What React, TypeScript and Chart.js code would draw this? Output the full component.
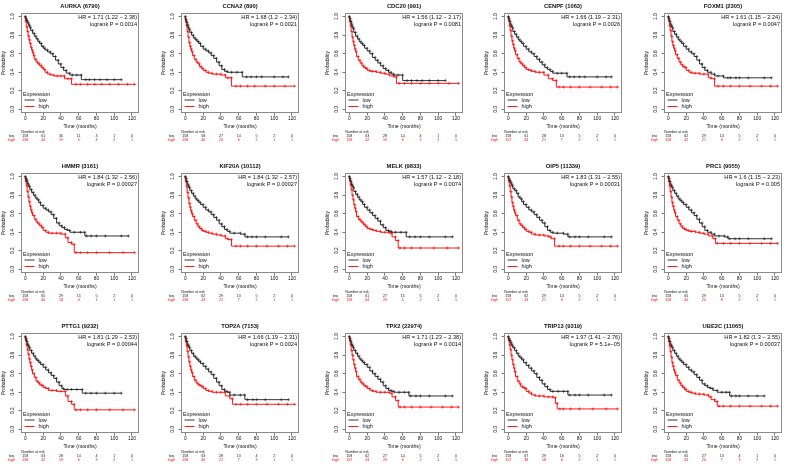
import React, { useEffect, useRef } from "react";
import { Chart, registerables } from "chart.js";

Chart.register(...registerables);

const TIME_TICKS = [0, 20, 40, 60, 80, 100, 120];
const PROB_TICKS = [0, 0.2, 0.4, 0.6, 0.8, 1];

const TITLES = [
  "AURKA (6790)", "CCNA2 (890)", "CDC20 (991)", "CENPF (1063)", "FOXM1 (2305)",
  "HMMR (3161)", "KIF20A (10112)", "MELK (9833)", "OIP5 (11339)", "PRC1 (9055)",
  "PTTG1 (9232)", "TOP2A (7153)", "TPX2 (22974)", "TRIP13 (9319)", "UBE2C (11065)",
];
const HR_TEXT = [
  "HR = 1.71 (1.22 − 2.38)", "HR = 1.68 (1.2 − 2.34)", "HR = 1.56 (1.12 − 2.17)", "HR = 1.66 (1.19 − 2.31)", "HR = 1.61 (1.15 − 2.24)",
  "HR = 1.84 (1.32 − 2.56)", "HR = 1.84 (1.32 − 2.57)", "HR = 1.57 (1.12 − 2.18)", "HR = 1.83 (1.31 − 2.55)", "HR = 1.6 (1.15 − 2.23)",
  "HR = 1.81 (1.29 − 2.53)", "HR = 1.66 (1.19 − 2.31)", "HR = 1.71 (1.23 − 2.38)", "HR = 1.97 (1.41 − 2.76)", "HR = 1.82 (1.3 − 2.55)",
];
const P_TEXT = [
  "logrank P = 0.0014", "logrank P = 0.0021", "logrank P = 0.0081", "logrank P = 0.0026", "logrank P = 0.0047",
  "logrank P = 0.00027", "logrank P = 0.00027", "logrank P = 0.0074", "logrank P = 0.00031", "logrank P = 0.005",
  "logrank P = 0.00044", "logrank P = 0.0024", "logrank P = 0.0014", "logrank P = 5.1e−05", "logrank P = 0.00037",
];
const RISK_LOW = [
  [158, 61, 30, 11, 3, 1, 0], [158, 58, 27, 14, 5, 2, 0], [158, 63, 28, 14, 4, 1, 0], [158, 61, 28, 13, 5, 2, 0], [158, 62, 29, 14, 5, 2, 0],
  [158, 65, 29, 15, 5, 2, 0], [158, 62, 29, 13, 5, 2, 0], [158, 61, 27, 15, 5, 2, 0], [158, 62, 29, 14, 5, 2, 0], [158, 65, 29, 13, 5, 2, 0],
  [158, 63, 28, 14, 4, 1, 0], [158, 63, 28, 13, 4, 2, 0], [158, 62, 27, 14, 5, 2, 0], [158, 67, 29, 16, 5, 2, 0], [158, 65, 27, 13, 4, 1, 0],
];
const RISK_HIGH = [
  [158, 44, 19, 5, 4, 2, 1], [158, 46, 20, 6, 2, 1, 1], [158, 42, 19, 6, 3, 2, 1], [157, 44, 21, 7, 2, 1, 1], [158, 42, 21, 6, 2, 1, 1],
  [158, 40, 18, 4, 1, 1, 1], [158, 43, 21, 7, 2, 1, 1], [158, 44, 20, 5, 2, 1, 1], [157, 43, 21, 6, 2, 1, 1], [158, 40, 20, 8, 2, 1, 1],
  [158, 42, 19, 6, 3, 2, 1], [158, 46, 21, 7, 3, 1, 1], [157, 43, 20, 6, 2, 1, 1], [157, 38, 18, 6, 2, 1, 1], [158, 44, 20, 7, 3, 2, 1],
];

// Kaplan-Meier curves: [time (months), survival probability]
const AURKA_LOW = [[0,1],[1,0.98],[2,0.96],[3,0.94],[4,0.92],[5,0.9],[6,0.88],[8,0.85],[10,0.82],[12,0.79],[14,0.76],[16,0.73],[18,0.71],[20,0.68],[22,0.66],[25,0.64],[28,0.62],[31,0.6],[34,0.57],[37,0.53],[40,0.49],[43,0.45],[46,0.42],[50,0.39],[53,0.37],[58,0.37],[63,0.37],[68,0.32],[72,0.32],[78,0.32],[84,0.32],[92,0.32],[100,0.32],[108,0.32]];
const AURKA_HIGH = [[0,1],[1,0.95],[2,0.89],[3,0.84],[4,0.79],[5,0.75],[6,0.71],[7,0.67],[8,0.64],[9,0.61],[10,0.58],[12,0.54],[14,0.51],[16,0.49],[18,0.47],[20,0.45],[22,0.43],[25,0.4],[28,0.38],[32,0.37],[36,0.36],[40,0.36],[44,0.36],[48,0.33],[52,0.33],[57,0.27],[62,0.27],[70,0.27],[78,0.27],[86,0.27],[95,0.27],[105,0.27],[115,0.27],[123,0.27]];
const CCNA2_LOW = [[0,1],[1,0.97],[2,0.94],[3,0.91],[4,0.88],[5,0.86],[7,0.83],[9,0.8],[11,0.77],[13,0.75],[15,0.73],[17,0.71],[20,0.68],[23,0.65],[26,0.63],[29,0.61],[32,0.58],[35,0.55],[38,0.51],[41,0.47],[44,0.43],[47,0.41],[52,0.4],[58,0.4],[64,0.4],[69,0.35],[74,0.35],[80,0.35],[86,0.35],[100,0.35],[110,0.35],[116,0.35]];
const CCNA2_HIGH = [[0,1],[1,0.95],[2,0.9],[3,0.84],[4,0.78],[5,0.72],[6,0.68],[7,0.65],[8,0.62],[10,0.58],[12,0.54],[14,0.51],[16,0.49],[18,0.46],[20,0.44],[23,0.42],[26,0.4],[30,0.39],[35,0.38],[40,0.38],[45,0.37],[48,0.34],[52,0.34],[57,0.25],[62,0.25],[70,0.25],[78,0.25],[90,0.25],[100,0.25],[112,0.25],[123,0.25]];
const CDC20_LOW = [[0,1],[1,0.98],[2,0.95],[3,0.92],[4,0.89],[5,0.87],[7,0.83],[9,0.79],[11,0.76],[13,0.73],[15,0.71],[17,0.69],[20,0.66],[23,0.63],[26,0.6],[29,0.56],[32,0.53],[35,0.5],[38,0.47],[41,0.44],[44,0.42],[47,0.4],[50,0.38],[55,0.37],[60,0.37],[65,0.31],[70,0.31],[76,0.31],[82,0.31],[90,0.31],[100,0.31],[108,0.31]];
const CDC20_HIGH = [[0,1],[1,0.95],[2,0.9],[3,0.84],[4,0.78],[5,0.73],[6,0.69],[7,0.65],[8,0.62],[10,0.57],[12,0.53],[14,0.5],[16,0.47],[18,0.45],[20,0.44],[23,0.42],[26,0.41],[30,0.41],[35,0.4],[40,0.39],[45,0.38],[50,0.36],[53,0.35],[56,0.28],[62,0.28],[70,0.28],[80,0.28],[90,0.28],[100,0.28],[112,0.28],[123,0.28]];
const CENPF_LOW = [[0,1],[1,0.98],[2,0.95],[3,0.92],[4,0.9],[5,0.88],[7,0.84],[9,0.81],[11,0.78],[13,0.75],[15,0.73],[17,0.71],[20,0.68],[23,0.65],[26,0.62],[29,0.6],[32,0.57],[35,0.54],[38,0.51],[41,0.48],[44,0.45],[47,0.43],[50,0.41],[55,0.39],[60,0.39],[66,0.39],[69,0.35],[74,0.35],[80,0.35],[86,0.35],[100,0.35],[110,0.35],[116,0.35]];
const CENPF_HIGH = [[0,1],[1,0.96],[2,0.9],[3,0.85],[4,0.79],[5,0.74],[6,0.7],[7,0.66],[8,0.63],[10,0.59],[12,0.55],[14,0.51],[16,0.49],[18,0.47],[20,0.45],[23,0.43],[26,0.42],[30,0.41],[35,0.4],[40,0.4],[45,0.37],[50,0.33],[54,0.31],[57,0.24],[62,0.24],[70,0.24],[80,0.24],[92,0.24],[105,0.24],[115,0.24],[123,0.24]];
const FOXM1_LOW = [[0,1],[1,0.98],[2,0.95],[3,0.92],[4,0.9],[5,0.88],[7,0.84],[9,0.81],[11,0.78],[13,0.75],[15,0.73],[17,0.71],[20,0.68],[23,0.65],[26,0.62],[29,0.6],[32,0.57],[35,0.53],[38,0.49],[41,0.45],[44,0.42],[48,0.4],[52,0.38],[56,0.36],[62,0.36],[67,0.34],[70,0.34],[76,0.34],[80,0.34],[90,0.34],[108,0.34],[116,0.34]];
const FOXM1_HIGH = [[0,1],[1,0.96],[2,0.9],[3,0.85],[4,0.79],[5,0.73],[6,0.69],[7,0.66],[8,0.63],[10,0.59],[12,0.55],[14,0.51],[16,0.48],[18,0.46],[20,0.45],[23,0.42],[26,0.4],[30,0.39],[35,0.39],[40,0.38],[45,0.38],[48,0.34],[52,0.33],[56,0.25],[62,0.25],[70,0.25],[80,0.25],[92,0.25],[105,0.25],[115,0.25],[123,0.25]];
const HMMR_LOW = [[0,1],[1,0.98],[2,0.96],[3,0.93],[4,0.91],[5,0.89],[7,0.86],[9,0.83],[11,0.8],[13,0.77],[15,0.75],[17,0.72],[20,0.69],[23,0.66],[26,0.64],[29,0.62],[32,0.59],[35,0.55],[38,0.5],[41,0.47],[44,0.45],[47,0.43],[50,0.42],[55,0.4],[62,0.4],[67,0.4],[69,0.36],[74,0.36],[80,0.36],[90,0.36],[108,0.36],[116,0.36]];
const HMMR_HIGH = [[0,1],[1,0.95],[2,0.9],[3,0.84],[4,0.78],[5,0.73],[6,0.68],[7,0.64],[8,0.61],[10,0.58],[12,0.54],[14,0.51],[16,0.49],[18,0.47],[20,0.45],[23,0.42],[26,0.4],[30,0.39],[35,0.39],[40,0.39],[45,0.38],[48,0.34],[52,0.29],[55,0.27],[57,0.18],[62,0.18],[70,0.18],[80,0.18],[95,0.18],[110,0.18],[123,0.18]];
const KIF20A_LOW = [[0,1],[1,0.98],[2,0.95],[3,0.92],[4,0.9],[5,0.88],[7,0.85],[9,0.82],[11,0.79],[13,0.76],[15,0.74],[17,0.72],[20,0.7],[23,0.67],[26,0.64],[29,0.62],[32,0.59],[35,0.56],[38,0.53],[41,0.49],[44,0.46],[47,0.43],[50,0.41],[55,0.39],[62,0.39],[67,0.38],[70,0.35],[75,0.35],[80,0.35],[90,0.35],[108,0.35],[116,0.35]];
const KIF20A_HIGH = [[0,1],[1,0.95],[2,0.89],[3,0.83],[4,0.77],[5,0.71],[6,0.67],[7,0.63],[8,0.6],[10,0.57],[12,0.53],[14,0.49],[16,0.46],[18,0.44],[20,0.42],[23,0.41],[26,0.4],[30,0.39],[35,0.38],[40,0.37],[45,0.36],[48,0.33],[52,0.32],[57,0.25],[62,0.25],[70,0.25],[80,0.25],[92,0.25],[105,0.25],[115,0.25],[123,0.25]];
const MELK_LOW = [[0,1],[1,0.98],[2,0.95],[3,0.92],[4,0.9],[5,0.88],[7,0.84],[9,0.81],[11,0.78],[13,0.75],[15,0.73],[17,0.7],[20,0.67],[23,0.64],[26,0.61],[29,0.58],[32,0.55],[35,0.52],[38,0.48],[41,0.45],[44,0.42],[47,0.41],[52,0.4],[58,0.4],[64,0.4],[68,0.35],[74,0.35],[80,0.35],[90,0.35],[108,0.35],[116,0.35]];
const MELK_HIGH = [[0,1],[1,0.96],[2,0.91],[3,0.86],[4,0.8],[5,0.75],[6,0.7],[7,0.66],[8,0.62],[10,0.57],[12,0.54],[14,0.52],[16,0.5],[18,0.48],[20,0.46],[23,0.44],[26,0.43],[30,0.42],[35,0.41],[40,0.4],[45,0.4],[48,0.39],[52,0.35],[55,0.31],[57,0.23],[62,0.23],[70,0.23],[80,0.23],[95,0.23],[110,0.23],[123,0.23]];
const OIP5_LOW = [[0,1],[1,0.98],[2,0.96],[3,0.94],[4,0.92],[5,0.9],[7,0.87],[9,0.85],[11,0.82],[13,0.78],[15,0.76],[17,0.73],[20,0.7],[23,0.67],[26,0.64],[29,0.62],[32,0.59],[35,0.56],[38,0.53],[41,0.5],[44,0.46],[47,0.42],[50,0.4],[55,0.39],[62,0.39],[67,0.38],[69,0.35],[75,0.35],[80,0.35],[90,0.35],[108,0.35],[116,0.35]];
const OIP5_HIGH = [[0,1],[1,0.95],[2,0.9],[3,0.84],[4,0.78],[5,0.72],[6,0.68],[7,0.64],[8,0.61],[10,0.58],[12,0.53],[14,0.49],[16,0.47],[18,0.45],[20,0.43],[23,0.41],[26,0.4],[30,0.38],[35,0.37],[40,0.37],[45,0.36],[48,0.35],[52,0.33],[57,0.25],[62,0.25],[70,0.25],[80,0.25],[92,0.25],[105,0.25],[115,0.25],[123,0.25]];
const PRC1_LOW = [[0,1],[1,0.98],[2,0.95],[3,0.92],[4,0.9],[5,0.88],[7,0.85],[9,0.82],[11,0.79],[13,0.76],[15,0.74],[17,0.72],[20,0.7],[23,0.67],[26,0.64],[29,0.61],[32,0.58],[35,0.54],[38,0.5],[41,0.46],[44,0.42],[48,0.4],[52,0.38],[57,0.36],[63,0.36],[67,0.35],[69,0.33],[75,0.33],[80,0.33],[90,0.33],[108,0.33],[116,0.33]];
const PRC1_HIGH = [[0,1],[1,0.95],[2,0.9],[3,0.84],[4,0.78],[5,0.72],[6,0.68],[7,0.64],[8,0.61],[10,0.57],[12,0.53],[14,0.49],[16,0.46],[18,0.44],[20,0.43],[23,0.42],[26,0.41],[30,0.41],[35,0.4],[40,0.39],[45,0.38],[50,0.36],[53,0.33],[55,0.28],[62,0.28],[70,0.28],[80,0.28],[92,0.28],[105,0.28],[115,0.28],[123,0.28]];
const PTTG1_LOW = [[0,1],[1,0.98],[2,0.95],[3,0.92],[4,0.9],[5,0.88],[7,0.85],[9,0.82],[11,0.79],[13,0.76],[15,0.74],[17,0.72],[20,0.7],[23,0.67],[26,0.64],[29,0.61],[32,0.58],[35,0.55],[38,0.51],[41,0.47],[43,0.44],[47,0.43],[52,0.43],[58,0.43],[64,0.43],[68,0.39],[74,0.39],[80,0.39],[90,0.39],[100,0.39],[108,0.39]];
const PTTG1_HIGH = [[0,1],[1,0.96],[2,0.91],[3,0.86],[4,0.81],[5,0.76],[6,0.72],[7,0.68],[8,0.64],[10,0.6],[12,0.56],[14,0.52],[16,0.5],[18,0.48],[20,0.47],[23,0.45],[26,0.44],[30,0.42],[35,0.42],[40,0.41],[45,0.41],[48,0.36],[52,0.3],[55,0.27],[57,0.21],[62,0.21],[70,0.21],[80,0.21],[95,0.21],[110,0.21],[123,0.21]];
const TOP2A_LOW = [[0,1],[1,0.98],[2,0.95],[3,0.92],[4,0.9],[5,0.88],[7,0.85],[9,0.82],[11,0.79],[13,0.77],[15,0.75],[17,0.73],[20,0.71],[23,0.68],[26,0.65],[29,0.62],[32,0.59],[35,0.55],[38,0.51],[41,0.47],[44,0.43],[47,0.41],[50,0.4],[55,0.37],[62,0.37],[67,0.37],[70,0.32],[76,0.32],[80,0.32],[90,0.32],[108,0.32],[116,0.32]];
const TOP2A_HIGH = [[0,1],[1,0.95],[2,0.9],[3,0.84],[4,0.78],[5,0.73],[6,0.68],[7,0.64],[8,0.61],[10,0.57],[12,0.53],[14,0.5],[16,0.48],[18,0.47],[20,0.46],[23,0.44],[26,0.42],[30,0.41],[35,0.4],[40,0.4],[45,0.4],[50,0.36],[53,0.33],[57,0.27],[62,0.27],[70,0.27],[80,0.27],[92,0.27],[105,0.27],[115,0.27],[123,0.27]];
const TPX2_LOW = [[0,1],[1,0.98],[2,0.95],[3,0.92],[4,0.9],[5,0.88],[7,0.85],[9,0.82],[11,0.79],[13,0.76],[15,0.74],[17,0.72],[20,0.7],[23,0.67],[26,0.63],[29,0.6],[32,0.57],[35,0.54],[38,0.51],[41,0.47],[44,0.44],[47,0.42],[50,0.41],[56,0.4],[62,0.4],[67,0.4],[69,0.36],[75,0.36],[80,0.36],[90,0.36],[108,0.36],[116,0.36]];
const TPX2_HIGH = [[0,1],[1,0.96],[2,0.91],[3,0.85],[4,0.8],[5,0.75],[6,0.7],[7,0.66],[8,0.62],[10,0.57],[12,0.54],[14,0.51],[16,0.49],[18,0.47],[20,0.46],[23,0.44],[26,0.42],[30,0.41],[35,0.4],[40,0.4],[45,0.4],[48,0.39],[52,0.35],[55,0.31],[57,0.24],[62,0.24],[70,0.24],[80,0.24],[92,0.24],[105,0.24],[115,0.24],[123,0.24]];
const TRIP13_LOW = [[0,1],[1,0.98],[2,0.96],[3,0.94],[4,0.92],[5,0.9],[7,0.88],[9,0.85],[11,0.82],[13,0.79],[15,0.77],[17,0.75],[20,0.72],[23,0.69],[26,0.66],[29,0.63],[32,0.6],[35,0.56],[38,0.53],[41,0.49],[44,0.46],[47,0.43],[50,0.41],[56,0.41],[62,0.41],[67,0.41],[69,0.37],[75,0.37],[80,0.37],[90,0.37],[108,0.37],[116,0.37]];
const TRIP13_HIGH = [[0,1],[1,0.96],[2,0.91],[3,0.86],[4,0.8],[5,0.75],[6,0.7],[7,0.66],[8,0.62],[10,0.57],[12,0.52],[14,0.49],[16,0.46],[18,0.45],[20,0.44],[23,0.41],[26,0.39],[30,0.37],[35,0.36],[40,0.36],[45,0.35],[50,0.35],[53,0.34],[55,0.28],[58,0.22],[62,0.22],[70,0.22],[80,0.22],[95,0.22],[110,0.22],[123,0.22]];
const UBE2C_LOW = [[0,1],[1,0.98],[2,0.95],[3,0.92],[4,0.9],[5,0.88],[7,0.85],[9,0.82],[11,0.79],[13,0.76],[15,0.74],[17,0.72],[20,0.7],[23,0.67],[26,0.64],[29,0.62],[32,0.59],[35,0.56],[38,0.53],[41,0.49],[44,0.47],[47,0.45],[50,0.44],[55,0.42],[60,0.4],[65,0.4],[69,0.4],[71,0.36],[76,0.36],[80,0.36],[90,0.36],[100,0.36],[108,0.36]];
const UBE2C_HIGH = [[0,1],[1,0.95],[2,0.9],[3,0.84],[4,0.78],[5,0.72],[6,0.68],[7,0.64],[8,0.61],[10,0.58],[12,0.53],[14,0.5],[16,0.47],[18,0.45],[20,0.43],[23,0.41],[26,0.4],[30,0.39],[35,0.38],[40,0.38],[45,0.37],[48,0.35],[52,0.32],[55,0.3],[57,0.25],[62,0.25],[70,0.25],[80,0.25],[92,0.25],[105,0.25],[115,0.25],[123,0.25]];

const LOW_CURVES = [AURKA_LOW, CCNA2_LOW, CDC20_LOW, CENPF_LOW, FOXM1_LOW, HMMR_LOW, KIF20A_LOW, MELK_LOW, OIP5_LOW, PRC1_LOW, PTTG1_LOW, TOP2A_LOW, TPX2_LOW, TRIP13_LOW, UBE2C_LOW];
const HIGH_CURVES = [AURKA_HIGH, CCNA2_HIGH, CDC20_HIGH, CENPF_HIGH, FOXM1_HIGH, HMMR_HIGH, KIF20A_HIGH, MELK_HIGH, OIP5_HIGH, PRC1_HIGH, PTTG1_HIGH, TOP2A_HIGH, TPX2_HIGH, TRIP13_HIGH, UBE2C_HIGH];

const FONT = '"Liberation Sans", Arial, Helvetica, sans-serif';
const LOW_COLOR = "#1e1e1e";
const HIGH_COLOR = "#ff0000";

const COL_BOX_LEFT = [21, 181, 345, 504, 664];
const Y_AXIS_W = 21;
const CANVAS_W = 143;
const CANVAS_H = 145;
const TOP_PAD = 13;
const X_AXIS_H = 32;

function Panel({ idx }: { idx: number }) {
  const ref = useRef<HTMLCanvasElement | null>(null);
  const col = idx % 5;
  const row = Math.floor(idx / 5);

  useEffect(() => {
    if (!ref.current) return;
    const decor = {
      id: "kmDecor",
      afterDraw(chart: any) {
        const { ctx, chartArea: a, scales } = chart;
        const x = scales.x;
        const y = scales.y;
        ctx.save();
        // box
        ctx.strokeStyle = "#8a8a8a";
        ctx.lineWidth = 1;
        ctx.strokeRect(a.left + 0.5, a.top + 0.5, a.right - a.left - 1, a.bottom - a.top - 1);
        // y tick labels (rotated, R style)
        ctx.fillStyle = "#111";
        ctx.font = `4.8px ${FONT}`;
        ctx.textAlign = "center";
        ctx.textBaseline = "middle";
        PROB_TICKS.forEach((v) => {
          const py = y.getPixelForValue(v);
          ctx.save();
          ctx.translate(a.left - 8.5, py);
          ctx.rotate(-Math.PI / 2);
          ctx.fillText(v.toFixed(1), 0, 0);
          ctx.restore();
        });
        // title
        ctx.font = `bold 5.8px ${FONT}`;
        ctx.fillText(TITLES[idx], (a.left + a.right) / 2, a.top - 7);
        // HR text
        ctx.font = `5.6px ${FONT}`;
        ctx.textAlign = "right";
        ctx.fillText(HR_TEXT[idx], a.right - 2, a.top + 4.8);
        ctx.fillText(P_TEXT[idx], a.right - 2, a.top + 11);
        // legend
        ctx.textAlign = "left";
        ctx.font = `5.5px ${FONT}`;
        ctx.fillText("Expression", a.left + 2, a.bottom - 19);
        ctx.lineWidth = 0.9;
        ctx.strokeStyle = LOW_COLOR;
        ctx.beginPath();
        ctx.moveTo(a.left + 3.5, a.bottom - 13);
        ctx.lineTo(a.left + 13.5, a.bottom - 13);
        ctx.stroke();
        ctx.strokeStyle = HIGH_COLOR;
        ctx.beginPath();
        ctx.moveTo(a.left + 3.5, a.bottom - 6.5);
        ctx.lineTo(a.left + 13.5, a.bottom - 6.5);
        ctx.stroke();
        ctx.fillText("low", a.left + 17.5, a.bottom - 13);
        ctx.fillText("high", a.left + 17.5, a.bottom - 6.5);
        // x-axis title
        ctx.textAlign = "center";
        ctx.font = `5.2px ${FONT}`;
        ctx.fillText("Time (months)", (a.left + a.right) / 2, a.bottom + 13.7);
        // number at risk table
        ctx.font = `3.6px ${FONT}`;
        ctx.textAlign = "left";
        ctx.fillText("Number at risk", x.getPixelForValue(0) - 4, a.bottom + 19.3);
        ctx.textAlign = "center";
        ctx.fillStyle = "#111";
        ctx.fillText("low", a.left - 9.5, a.bottom + 23);
        ctx.fillStyle = HIGH_COLOR;
        ctx.fillText("high", a.left - 9.5, a.bottom + 26.7);
        TIME_TICKS.forEach((t, i) => {
          const px = x.getPixelForValue(t);
          ctx.fillStyle = "#111";
          ctx.fillText(String(RISK_LOW[idx][i]), px, a.bottom + 23);
          ctx.fillStyle = HIGH_COLOR;
          ctx.fillText(String(RISK_HIGH[idx][i]), px, a.bottom + 26.7);
        });
        ctx.restore();
      },
    };

    const gridOpts = {
      drawOnChartArea: false,
      drawTicks: true,
      tickLength: 2.5,
      color: "#555",
      lineWidth: 0.8,
    };

    const mk = (arr: number[][], label: string, color: string) => ({
      label,
      data: arr.map(([t, s]) => ({ x: t, y: s })),
      borderColor: color,
      backgroundColor: color,
      borderWidth: 0.9,
      stepped: "after" as const,
      fill: false,
      pointStyle: "cross" as const,
      pointRadius: 1.5,
      pointHoverRadius: 0,
      pointBorderWidth: 0.6,
      pointBorderColor: color,
    });

    const chart = new Chart(ref.current, {
      type: "line",
      data: {
        datasets: [
          mk(LOW_CURVES[idx], "low", LOW_COLOR),
          mk(HIGH_CURVES[idx], "high", HIGH_COLOR),
        ],
      },
      options: {
        animation: false,
        responsive: false,
        events: [],
        layout: { padding: { left: 0, right: 4, top: TOP_PAD, bottom: 0 } },
        plugins: {
          legend: { display: false },
          tooltip: { enabled: false },
          title: { display: false },
        },
        scales: {
          x: {
            type: "linear",
            min: -4.92,
            max: 127.92,
            afterBuildTicks: (s: any) => {
              s.ticks = TIME_TICKS.map((v) => ({ value: v }));
            },
            afterFit: (s: any) => {
              s.height = X_AXIS_H;
            },
            grid: gridOpts,
            border: { display: false },
            ticks: {
              autoSkip: false,
              maxRotation: 0,
              minRotation: 0,
              padding: 0.5,
              color: "#111",
              font: { family: FONT, size: 4.8 },
              callback: (v: any) => String(v),
            },
          },
          y: {
            type: "linear",
            min: -0.04,
            max: 1.04,
            afterBuildTicks: (s: any) => {
              s.ticks = PROB_TICKS.map((v) => ({ value: v }));
            },
            afterFit: (s: any) => {
              s.width = Y_AXIS_W;
            },
            grid: gridOpts,
            border: { display: false },
            ticks: { display: false },
            title: {
              display: true,
              text: "Probability",
              color: "#111",
              padding: 0,
              font: { family: FONT, size: 5.2 },
            },
          },
        },
      },
      plugins: [decor],
    } as any);
    return () => chart.destroy();
  }, [idx]);

  return (
    <canvas
      ref={ref}
      width={CANVAS_W}
      height={CANVAS_H}
      style={{
        position: "absolute",
        left: COL_BOX_LEFT[col] - Y_AXIS_W,
        top: row * 160,
        width: CANVAS_W,
        height: CANVAS_H,
      }}
    />
  );
}

export default function App() {
  return (
    <div
      style={{
        position: "fixed",
        left: 0,
        top: 0,
        width: 786,
        height: 466,
        background: "#fff",
        overflow: "hidden",
      }}
    >
      {TITLES.map((_, i) => (
        <Panel key={i} idx={i} />
      ))}
    </div>
  );
}
